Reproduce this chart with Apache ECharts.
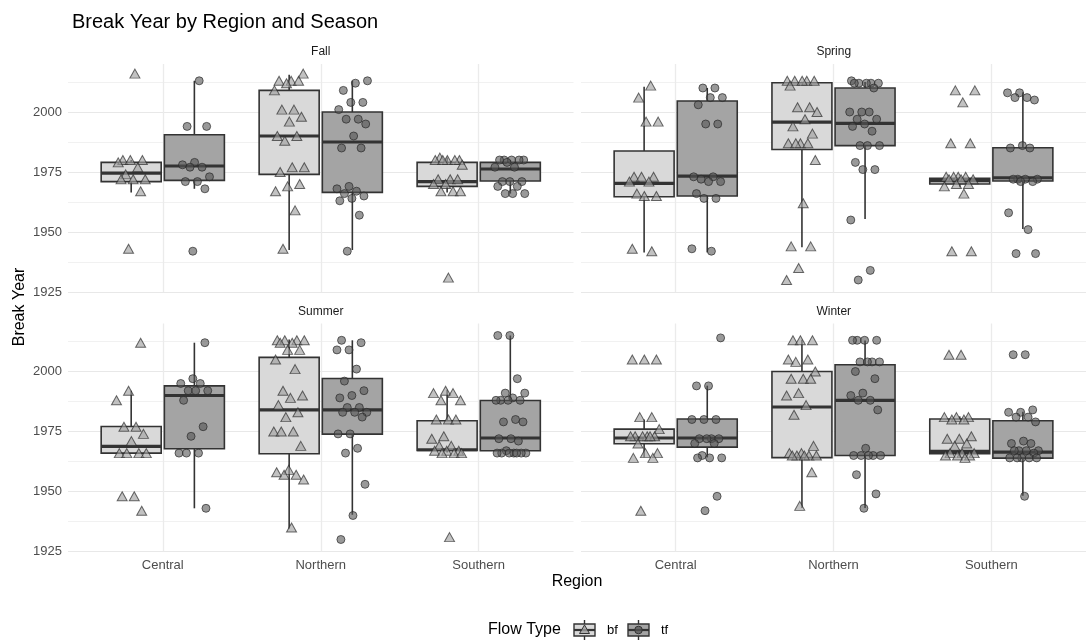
<!DOCTYPE html>
<html>
<head>
<meta charset="utf-8">
<script src="https://cdn.jsdelivr.net/npm/echarts@6/dist/echarts.min.js"></script>
<style>
  html, body { margin: 0; padding: 0; background: #ffffff; }
  #chart { width: 1086px; height: 641px; }
</style>
</head>
<body>
<div id="chart"></div>
<script>
// ---- categories ----
const regions = ['Central', 'Northern', 'Southern'];
const seasons = ['Fall', 'Spring', 'Summer', 'Winter'];
const flowTypes = ['bf', 'tf'];
const yTickLabels = [1925, 1950, 1975, 2000];

// ---- observed break years, one list per region (Central, Northern, Southern) ----
const fallBfYears = [
  [2016, 1980, 1980, 1980, 1979, 1977, 1974, 1972, 1972, 1972, 1967, 1943],
  [2016, 2013, 2013, 2013, 2012, 2009, 2001, 2001, 1998, 1996, 1990, 1990, 1988, 1977, 1977, 1975, 1970, 1969, 1967, 1959, 1943],
  [1981, 1980, 1980, 1980, 1980, 1980, 1978, 1972, 1972, 1972, 1970, 1970, 1967, 1967, 1967, 1931]
];
const fallTfYears = [
  [2013, 1994, 1994, 1979, 1978, 1977, 1977, 1973, 1971, 1971, 1968, 1942],
  [2013, 2012, 2009, 2004, 2004, 2001, 1997, 1997, 1995, 1990, 1985, 1985, 1969, 1968, 1967, 1966, 1965, 1964, 1963, 1957, 1942],
  [1980, 1980, 1980, 1980, 1980, 1979, 1977, 1977, 1971, 1971, 1971, 1969, 1969, 1966, 1966, 1966]
];
const springBfYears = [
  [2011, 2006, 1996, 1996, 1973, 1973, 1973, 1971, 1971, 1966, 1965, 1965, 1943, 1942],
  [2013, 2013, 2013, 2013, 2013, 2011, 2002, 2002, 2000, 1997, 1994, 1991, 1987, 1987, 1987, 1987, 1980, 1962, 1944, 1944, 1935, 1930],
  [2009, 2009, 2004, 1987, 1987, 1973, 1973, 1973, 1973, 1972, 1972, 1972, 1970, 1970, 1969, 1966, 1942, 1942]
];
const springTfYears = [
  [2010, 2010, 2006, 2006, 2003, 1995, 1995, 1973, 1973, 1972, 1971, 1971, 1966, 1964, 1964, 1943, 1942],
  [2013, 2012, 2012, 2012, 2012, 2012, 2010, 2000, 2000, 2000, 1997, 1997, 1995, 1994, 1992, 1986, 1986, 1986, 1979, 1976, 1976, 1955, 1934, 1930],
  [2008, 2008, 2006, 2006, 2005, 1986, 1985, 1985, 1972, 1972, 1972, 1972, 1971, 1971, 1958, 1951, 1941, 1941]
];
const summerBfYears = [
  [2012, 1992, 1988, 1977, 1977, 1974, 1971, 1966, 1966, 1966, 1966, 1948, 1948, 1942],
  [2013, 2013, 2013, 2013, 2012, 2012, 2009, 2009, 2005, 2001, 1992, 1990, 1989, 1986, 1983, 1981, 1975, 1975, 1975, 1969, 1959, 1958, 1957, 1957, 1955, 1935],
  [1992, 1991, 1991, 1988, 1988, 1980, 1980, 1980, 1973, 1972, 1969, 1969, 1967, 1967, 1967, 1966, 1966, 1966, 1931]
];
const summerTfYears = [
  [2012, 1997, 1995, 1995, 1992, 1992, 1992, 1988, 1977, 1973, 1966, 1966, 1966, 1943],
  [2013, 2012, 2009, 2009, 2001, 1996, 1992, 1990, 1989, 1985, 1985, 1983, 1983, 1983, 1981, 1974, 1974, 1968, 1966, 1953, 1940, 1930],
  [2015, 2015, 1997, 1991, 1991, 1989, 1988, 1988, 1988, 1988, 1980, 1979, 1979, 1972, 1972, 1971, 1967, 1966, 1966, 1966, 1966, 1966, 1966, 1966]
];
const winterBfYears = [
  [2005, 2005, 2005, 1981, 1981, 1976, 1973, 1973, 1973, 1973, 1973, 1973, 1970, 1966, 1966, 1964, 1964, 1942],
  [2013, 2013, 2013, 2005, 2005, 2004, 2000, 1997, 1997, 1997, 1991, 1990, 1986, 1982, 1969, 1966, 1966, 1965, 1965, 1965, 1965, 1965, 1958, 1944],
  [2007, 2007, 1981, 1981, 1981, 1980, 1980, 1973, 1972, 1972, 1970, 1969, 1966, 1966, 1966, 1965, 1965, 1965, 1964]
];
const winterTfYears = [
  [2014, 1994, 1994, 1980, 1980, 1980, 1972, 1972, 1972, 1972, 1970, 1970, 1965, 1964, 1964, 1964, 1948, 1942],
  [2013, 2013, 2013, 2013, 2004, 2004, 2004, 2004, 2000, 1997, 1991, 1990, 1988, 1988, 1984, 1968, 1965, 1965, 1965, 1965, 1965, 1957, 1949, 1943],
  [2007, 2007, 1984, 1983, 1983, 1981, 1981, 1979, 1971, 1970, 1970, 1967, 1967, 1967, 1967, 1966, 1964, 1964, 1964, 1964, 1964, 1948]
];

// ---- box summaries: [lower whisker, Q1, median, Q3, upper whisker] per region ----
const fallBfBoxes   = [[1966.5, 1971, 1974.5, 1979, 1980], [1942.5, 1974, 1990, 2009, 2015.5], [1966.5, 1969, 1971, 1979, 1981]];
const fallTfBoxes   = [[1968, 1971.5, 1977.5, 1990.5, 2013], [1942.5, 1966.5, 1987.5, 2000, 2013], [1966, 1971.25, 1976.25, 1979, 1980]];
const springBfBoxes = [[1941.5, 1964.7, 1970.3, 1983.75, 2010.5], [1943.6, 1984.4, 1995.8, 2012.2, 2012.6], [1968.6, 1970, 1971.4, 1972.4, 1972.8]];
const springTfBoxes = [[1941.5, 1965, 1973.3, 2004.6, 2010], [1955.4, 1986, 1995.3, 2010, 2012.5], [1951.25, 1971.25, 1972.6, 1985.1, 2008.2]];
const summerBfBoxes = [[1966, 1966, 1968.8, 1977.1, 1992], [1934.5, 1965.7, 1984, 2005.9, 2013.3], [1966.3, 1967.1, 1967.4, 1979.5, 1992.4]];
const summerTfBoxes = [[1943, 1967.8, 1990, 1994, 2012], [1940.3, 1973.9, 1984, 1997.1, 2013], [1966, 1967, 1972.3, 1987.9, 2015]];
const winterBfBoxes = [[1964.3, 1969.9, 1972.3, 1976, 1980], [1943.1, 1964.1, 1985.2, 2000, 2013.2], [1964.3, 1965.7, 1966.7, 1980.2, 1981.3]];
const winterTfBoxes = [[1964.2, 1968.5, 1972.3, 1980.2, 1994.1], [1943.1, 1965, 1988, 2002.8, 2012.9], [1948.2, 1963.9, 1966.4, 1979.5, 1983.2]];

// ---- assemble per-facet lookups ----
const yearsBySeason = {
  Fall:   { bf: fallBfYears,   tf: fallTfYears },
  Spring: { bf: springBfYears, tf: springTfYears },
  Summer: { bf: summerBfYears, tf: summerTfYears },
  Winter: { bf: winterBfYears, tf: winterTfYears }
};
const boxesBySeason = {
  Fall:   { bf: fallBfBoxes,   tf: fallTfBoxes },
  Spring: { bf: springBfBoxes, tf: springTfBoxes },
  Summer: { bf: summerBfBoxes, tf: summerTfBoxes },
  Winter: { bf: winterBfBoxes, tf: winterTfBoxes }
};

// ---- look ----
const FONT = '"Liberation Sans", Arial, Helvetica, sans-serif';
const BOX_FILL = { bf: '#d9d9d9', tf: '#a4a4a4' };
const PT_FILL = { bf: 'rgba(160,160,160,0.8)', tf: 'rgba(85,85,85,0.75)' };
const PT_SHAPE = { bf: 'triangle', tf: 'circle' };
const PT_SIZE = { bf: [10, 9], tf: 8 };
const EDGE = '#333333';
const DODGE = { bf: -0.2, tf: 0.2 };
const BOX_W = 0.38;
const JITTER = 0.2;

// facet panels, left-to-right, top-to-bottom
const panelLeft = [68, 581, 68, 581];
const panelTop = [64, 64, 323.5, 323.5];
const PANEL_W = 505.5;
const PANEL_H = 228;

const grids = [], xAxes = [], yAxes = [], series = [];

seasons.forEach(function (season, p) {
  const bottomRow = p >= 2;
  const leftCol = p % 2 === 0;
  grids.push({ left: panelLeft[p], top: panelTop[p], width: PANEL_W, height: PANEL_H, containLabel: false });

  xAxes.push({
    gridIndex: p, type: 'value', min: 0.4, max: 3.6,
    axisLine: { show: false },
    axisTick: { show: false, customValues: [1, 2, 3] },
    axisLabel: {
      show: bottomRow, customValues: [1, 2, 3], margin: 7,
      color: '#4d4d4d', fontSize: 13, fontFamily: FONT,
      formatter: function (v) { return regions[Math.round(v) - 1] || ''; }
    },
    splitLine: { show: true, lineStyle: { color: '#ebebeb', width: 1.3 } }
  });

  yAxes.push({
    gridIndex: p, type: 'value', min: 1925, max: 2020, interval: 12.5,
    axisLine: { show: false },
    axisTick: { show: false },
    axisLabel: {
      show: leftCol, margin: 6, color: '#4d4d4d', fontSize: 13, fontFamily: FONT,
      formatter: function (v) { return yTickLabels.indexOf(v) >= 0 ? String(v) : ''; }
    },
    splitLine: { show: true, showMaxLine: false, lineStyle: { color: ['#e8e8e8', '#f1f1f1'], width: 1.2 } }
  });

  flowTypes.forEach(function (ft) {
    const boxes = boxesBySeason[season][ft];
    series.push({
      type: 'custom', name: ft, xAxisIndex: p, yAxisIndex: p, z: 2,
      data: boxes.map(function (b, r) { return [r + 1 + DODGE[ft]].concat(b); }),
      renderItem: function (params, api) {
        const x = api.value(0);
        const leftBottom = api.coord([x - BOX_W / 2, api.value(2)]);
        const rightTop = api.coord([x + BOX_W / 2, api.value(4)]);
        const lowW = api.coord([x, api.value(1)]);
        const med = api.coord([x, api.value(3)]);
        const highW = api.coord([x, api.value(5)]);
        const lineStyle = { stroke: EDGE, lineWidth: 1.6 };
        return {
          type: 'group',
          children: [
            { type: 'line', shape: { x1: lowW[0], y1: lowW[1], x2: lowW[0], y2: leftBottom[1] }, style: lineStyle },
            { type: 'line', shape: { x1: highW[0], y1: highW[1], x2: highW[0], y2: rightTop[1] }, style: lineStyle },
            { type: 'rect', shape: { x: leftBottom[0], y: rightTop[1], width: rightTop[0] - leftBottom[0], height: leftBottom[1] - rightTop[1] },
              style: { fill: BOX_FILL[ft], stroke: EDGE, lineWidth: 1.6 } },
            { type: 'line', shape: { x1: leftBottom[0], y1: med[1], x2: rightTop[0], y2: med[1] }, style: { stroke: EDGE, lineWidth: 3.2 } }
          ]
        };
      }
    });
  });

  flowTypes.forEach(function (ft, f) {
    const pts = [];
    yearsBySeason[season][ft].forEach(function (list, r) {
      list.forEach(function (year, i) {
        // evenly spread horizontal jitter so coincident years stay visible
        const k = i + 7 * r + 13 * f + 5 * p + 1;
        const off = (((k * 0.6180339887) % 1) - 0.5) * JITTER;
        pts.push([r + 1 + DODGE[ft] + off, year]);
      });
    });
    series.push({
      type: 'scatter', name: ft, xAxisIndex: p, yAxisIndex: p, z: 3,
      symbol: PT_SHAPE[ft], symbolSize: PT_SIZE[ft],
      itemStyle: { color: PT_FILL[ft], borderColor: 'rgba(40,40,40,0.85)', borderWidth: 1 },
      data: pts, silent: true
    });
  });
});

// facet strip labels, axis titles and the flow-type key
const graphics = [];
seasons.forEach(function (season, p) {
  graphics.push({
    type: 'text', x: panelLeft[p] + PANEL_W / 2, y: panelTop[p] - 12,
    style: { text: season, align: 'center', verticalAlign: 'middle', fill: '#1a1a1a', fontSize: 12, fontFamily: FONT }
  });
});
graphics.push({
  type: 'text', x: 20, y: 307, rotation: Math.PI / 2,
  style: { text: 'Break Year', align: 'center', verticalAlign: 'middle', fill: '#000', fontSize: 16, fontFamily: FONT }
});
graphics.push({
  type: 'text', x: 577, y: 582,
  style: { text: 'Region', align: 'center', verticalAlign: 'middle', fill: '#000', fontSize: 16, fontFamily: FONT }
});
graphics.push({
  type: 'text', x: 488, y: 630,
  style: { text: 'Flow Type', align: 'left', verticalAlign: 'middle', fill: '#000', fontSize: 16, fontFamily: FONT }
});
const keyX = { bf: 574, tf: 628 };
flowTypes.forEach(function (ft) {
  const x0 = keyX[ft], cy = 630, w = 21, h = 12;
  graphics.push({ type: 'line', shape: { x1: x0 + w / 2, y1: cy - h / 2 - 4, x2: x0 + w / 2, y2: cy + h / 2 + 4 }, style: { stroke: EDGE, lineWidth: 1.4 } });
  graphics.push({ type: 'rect', shape: { x: x0, y: cy - h / 2, width: w, height: h }, style: { fill: BOX_FILL[ft], stroke: EDGE, lineWidth: 1.4 } });
  graphics.push({ type: 'line', shape: { x1: x0, y1: cy, x2: x0 + w, y2: cy }, style: { stroke: EDGE, lineWidth: 2.2 } });
  if (ft === 'bf') {
    graphics.push({ type: 'polygon', shape: { points: [[x0 + w / 2, cy - 5], [x0 + w / 2 - 5, cy + 3.5], [x0 + w / 2 + 5, cy + 3.5]] },
      style: { fill: PT_FILL.bf, stroke: EDGE, lineWidth: 1 } });
  } else {
    graphics.push({ type: 'circle', shape: { cx: x0 + w / 2, cy: cy, r: 3.8 }, style: { fill: PT_FILL.tf, stroke: EDGE, lineWidth: 1 } });
  }
  graphics.push({ type: 'text', x: x0 + w + 12, y: cy, style: { text: ft, align: 'left', verticalAlign: 'middle', fill: '#000', fontSize: 13, fontFamily: FONT } });
});

const chart = echarts.init(document.getElementById('chart'), null, { renderer: 'canvas' });
chart.setOption({
  backgroundColor: '#ffffff',
  animation: false,
  title: {
    text: 'Break Year by Region and Season', left: 67, top: 7,
    textStyle: { fontSize: 20, fontWeight: 'normal', color: '#000', fontFamily: FONT }
  },
  grid: grids,
  xAxis: xAxes,
  yAxis: yAxes,
  series: series,
  graphic: graphics
});
</script>
</body>
</html>
